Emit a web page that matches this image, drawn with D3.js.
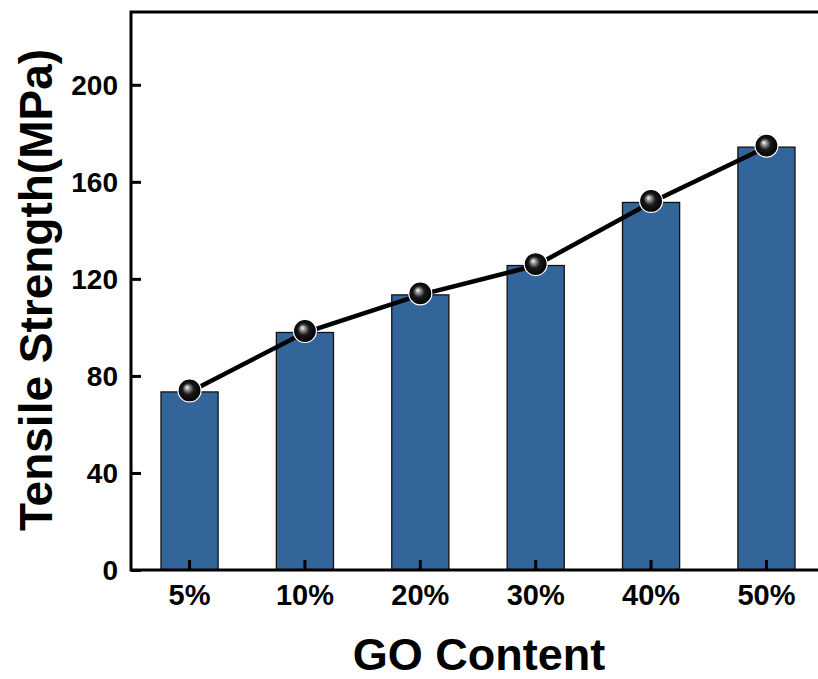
<!DOCTYPE html>
<html>
<head>
<meta charset="utf-8">
<script src="https://cdn.jsdelivr.net/npm/d3@7"></script>
<style>
  html, body { margin: 0; padding: 0; background: #fff; }
  svg { display: block; font-family: "Liberation Sans", Arial, sans-serif; }
</style>
</head>
<body>
<svg id="chart" width="818" height="679"></svg>
<script>
// GO content levels and measured tensile strength (MPa)
const categories = ["5%", "10%", "20%", "30%", "40%", "50%"];
const strength = [73.4, 97.9, 113.4, 125.5, 151.5, 174.3];
const yTicks = [0, 40, 80, 120, 160, 200];

const margin = { left: 131, top: 12, right: 825, bottom: 570 };

const svg = d3.select("#chart");

const x = d3.scaleBand()
  .domain(categories)
  .range([margin.left, margin.right])
  .paddingInner(0.505)
  .paddingOuter(0.26);

const y = d3.scaleLinear()
  .domain([0, 230])
  .range([margin.bottom, margin.top]);

// sphere-like marker shading
const defs = svg.append("defs");
const grad = defs.append("radialGradient")
  .attr("id", "ball")
  .attr("cx", "50%").attr("cy", "50%").attr("r", "50%")
  .attr("fx", "38%").attr("fy", "36%");
grad.append("stop").attr("offset", "0%").attr("stop-color", "#ffffff");
grad.append("stop").attr("offset", "20%").attr("stop-color", "#9a9a9a");
grad.append("stop").attr("offset", "50%").attr("stop-color", "#1a1a1a");
grad.append("stop").attr("offset", "100%").attr("stop-color", "#000000");

// bars
svg.append("g").selectAll("rect")
  .data(categories)
  .join("rect")
  .attr("x", d => x(d))
  .attr("y", (d, i) => y(strength[i]))
  .attr("width", x.bandwidth())
  .attr("height", (d, i) => y(0) - y(strength[i]))
  .attr("fill", "#33659b")
  .attr("stroke", "#111")
  .attr("stroke-width", 1.3);

// frame
svg.append("rect")
  .attr("x", margin.left)
  .attr("y", margin.top)
  .attr("width", margin.right - margin.left)
  .attr("height", margin.bottom - margin.top)
  .attr("fill", "none")
  .attr("stroke", "#000")
  .attr("stroke-width", 3);

// y axis: ticks point inward
const yAxis = svg.append("g")
  .attr("transform", `translate(${margin.left},0)`)
  .call(d3.axisLeft(y).tickValues(yTicks).tickSizeInner(-10).tickSizeOuter(0).tickPadding(13));
yAxis.select(".domain").remove();
yAxis.selectAll(".tick line").attr("stroke-width", 3);
yAxis.selectAll(".tick text")
  .attr("font-size", 28)
  .attr("font-weight", "bold")
  .attr("fill", "#000")
  .attr("dy", "0.35em");

// x axis: ticks point inward
const xAxis = svg.append("g")
  .attr("transform", `translate(0,${margin.bottom})`)
  .call(d3.axisBottom(x).tickSizeInner(-10).tickSizeOuter(0).tickPadding(14));
xAxis.select(".domain").remove();
xAxis.selectAll(".tick line").attr("stroke-width", 3);
xAxis.selectAll(".tick text")
  .attr("font-size", 29)
  .attr("font-weight", "bold")
  .attr("fill", "#000");

// connecting line
const line = d3.line()
  .x((d, i) => x(categories[i]) + x.bandwidth() / 2)
  .y(d => y(d));
svg.append("path")
  .datum(strength)
  .attr("d", line)
  .attr("fill", "none")
  .attr("stroke", "#000")
  .attr("stroke-width", 4.5);

// markers
svg.append("g").selectAll("circle")
  .data(strength)
  .join("circle")
  .attr("cx", (d, i) => x(categories[i]) + x.bandwidth() / 2)
  .attr("cy", d => y(d) - 1.5)
  .attr("r", 11.5)
  .attr("fill", "url(#ball)")
  .attr("stroke", "#fff")
  .attr("stroke-width", 1.2);

// axis titles
svg.append("text")
  .attr("x", 479)
  .attr("y", 670)
  .attr("text-anchor", "middle")
  .attr("font-size", 45)
  .attr("font-weight", "bold")
  .text("GO Content");

svg.append("text")
  .attr("transform", "translate(52,290) rotate(-90)")
  .attr("text-anchor", "middle")
  .attr("font-size", 46)
  .attr("font-weight", "bold")
  .text("Tensile Strength(MPa)");
</script>
</body>
</html>
